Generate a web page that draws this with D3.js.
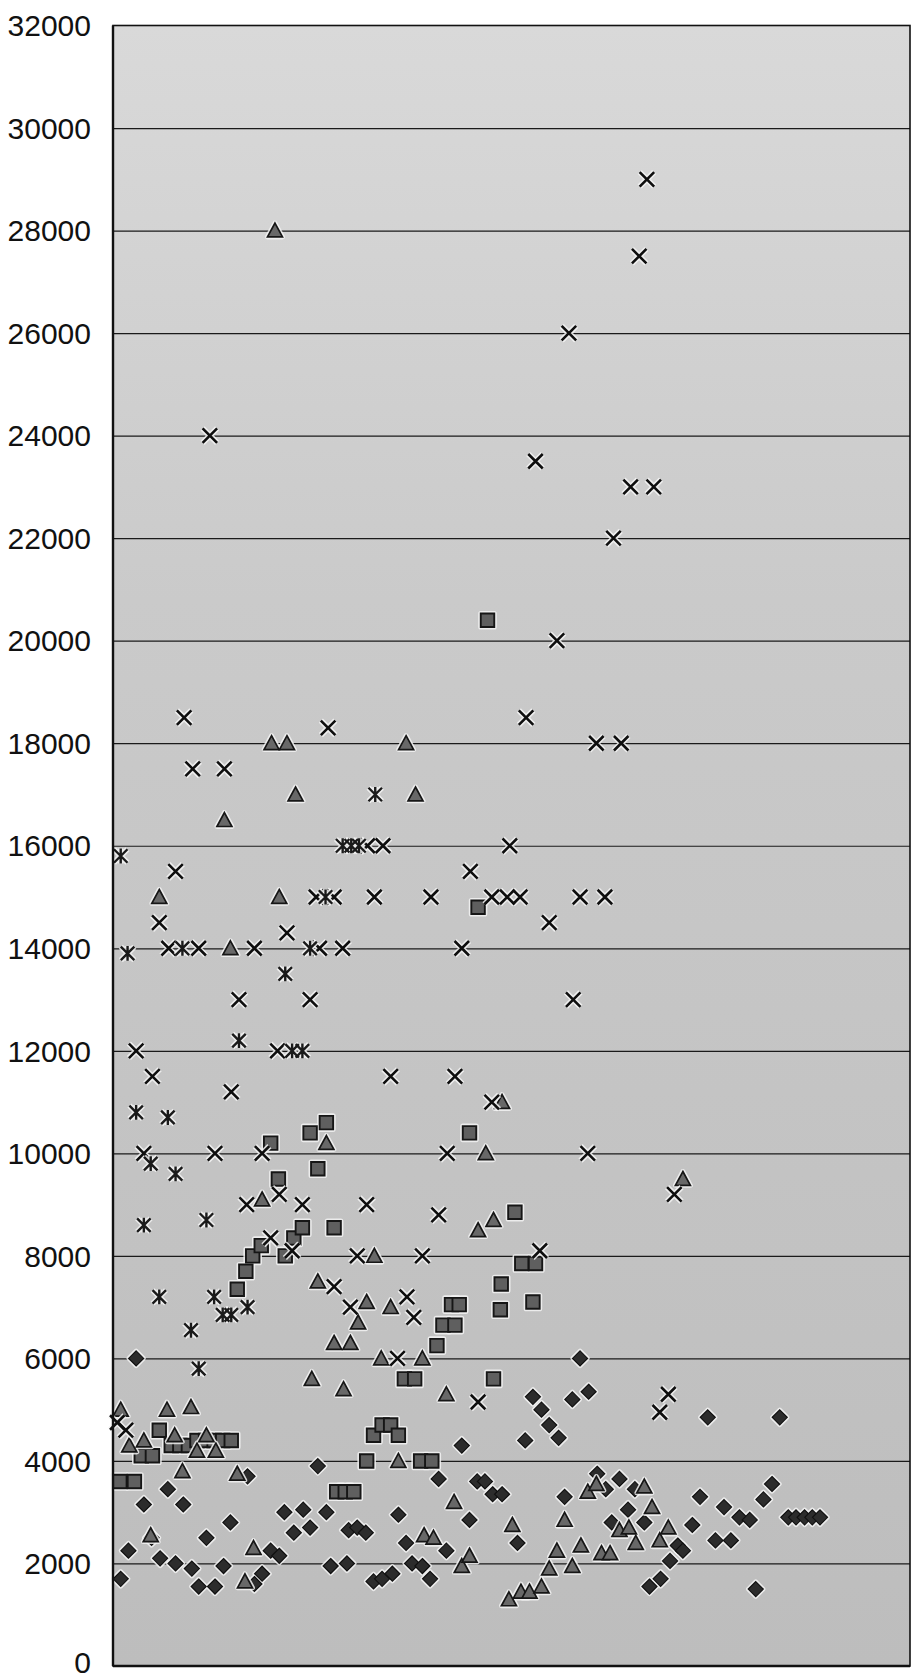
<!DOCTYPE html>
<html>
<head>
<meta charset="utf-8">
<script src="https://cdn.jsdelivr.net/npm/d3@7"></script>
<style>
  html, body { margin: 0; padding: 0; background: #ffffff; }
  svg { display: block; }
</style>
</head>
<body>
<svg id="chart" width="913" height="1680"></svg>
<script>
// ---- data ----------------------------------------------------------------
// x: case position along the horizontal axis, y: amount
const yTicks = [0, 2000, 4000, 6000, 8000, 10000, 12000, 14000, 16000,
                18000, 20000, 22000, 24000, 26000, 28000, 30000, 32000];
const xDomain = [0, 93];
const yDomain = [0, 32000];

const seriesDiamond = [
  [0.9,1700],[1.8,2250],[2.7,6000],[3.6,3150],[4.5,2500],[5.5,2100],[6.4,3450],[7.3,2000],
  [8.2,3150],[9.2,1900],[10.0,1550],[10.9,2500],[11.9,1550],[12.9,1950],[13.7,2800],[15.7,3700],
  [16.5,1600],[17.4,1800],[18.4,2250],[19.4,2150],[20.0,3000],[21.1,2600],[22.2,3050],[23.0,2700],
  [23.9,3900],[24.9,3000],[25.4,1950],[27.3,2000],[27.5,2650],[28.5,2700],[29.5,2600],[30.4,1650],
  [31.4,1700],[32.6,1800],[33.3,2950],[34.2,2400],[34.9,2000],[36.1,1950],[37.0,1700],[38.0,3650],
  [38.9,2250],[40.7,4300],[41.6,2850],[42.5,3600],[43.4,3600],[44.3,3350],[45.4,3350],[47.2,2400],
  [48.1,4400],[49.0,5250],[50.0,5000],[50.9,4700],[52.0,4450],[52.7,3300],[53.6,5200],[54.5,6000],
  [55.5,5350],[56.5,3750],[57.5,3450],[58.2,2800],[59.1,3650],[60.1,3050],[60.9,3450],[62.0,2800],
  [62.6,1550],[63.9,1700],[65.0,2050],[65.9,2350],[66.5,2250],[67.6,2750],[68.5,3300],[69.4,4850],
  [70.3,2450],[71.3,3100],[72.1,2450],[73.1,2900],[74.3,2850],[75.0,1500],[75.9,3250],[76.9,3550],
  [77.8,4850],[78.8,2900],[79.7,2900],[80.7,2900],[81.6,2900],[82.5,2900]
];

const seriesSquare = [
  [0.8,3600],[2.5,3600],[3.3,4100],[4.6,4100],[5.4,4600],[6.8,4300],[7.8,4300],[8.8,4300],
  [9.8,4400],[10.8,4400],[11.8,4400],[12.8,4400],[13.8,4400],[14.5,7350],[15.5,7700],[16.3,8000],
  [17.3,8200],[18.4,10200],[19.3,9500],[20.1,8000],[21.1,8350],[22.1,8550],[23.0,10400],[23.9,9700],
  [24.9,10600],[25.8,8550],[26.1,3400],[27.1,3400],[28.1,3400],[29.6,4000],[30.4,4500],[31.4,4700],
  [32.4,4700],[33.3,4500],[34.0,5600],[35.2,5600],[35.9,4000],[37.2,4000],[37.8,6250],[38.5,6650],
  [39.9,6650],[39.5,7050],[40.4,7050],[41.6,10400],[42.6,14800],[43.7,20400],[44.4,5600],[45.2,6950],
  [45.3,7450],[46.9,8850],[47.7,7850],[49.3,7850],[49.0,7100]
];

const seriesTriangle = [
  [0.9,5000],[1.9,4300],[3.6,4400],[4.4,2550],[5.4,15000],[6.3,5000],[7.2,4500],[8.1,3800],
  [9.1,5050],[9.8,4200],[10.9,4500],[12.0,4200],[13.0,16500],[13.7,14000],[14.5,3750],[15.4,1650],
  [16.4,2300],[17.4,9100],[18.5,18000],[18.9,28000],[19.4,15000],[20.3,18000],[21.3,17000],[23.2,5600],
  [23.9,7500],[24.9,10200],[25.8,6300],[26.9,5400],[27.7,6300],[28.6,6700],[29.6,7100],[30.5,8000],
  [31.3,6000],[32.4,7000],[33.3,4000],[34.2,18000],[35.3,17000],[36.1,6000],[36.3,2550],[37.4,2500],
  [38.9,5300],[39.8,3200],[40.7,1950],[41.6,2150],[42.6,8500],[43.5,10000],[44.4,8700],[45.4,11000],
  [46.2,1300],[46.6,2750],[47.6,1450],[48.6,1450],[50.0,1550],[50.9,1900],[51.8,2250],[52.7,2850],
  [53.6,1950],[54.6,2350],[55.4,3400],[56.4,3550],[57.0,2200],[58.0,2200],[59.1,2650],[60.2,2700],
  [61.0,2400],[62.0,3500],[62.9,3100],[63.8,2450],[64.8,2700],[66.5,9500]
];

const seriesCross = [
  [0.5,4750],[1.5,4600],[2.7,12000],[3.6,10000],[4.6,11500],[5.4,14500],[6.5,14000],[7.3,15500],
  [8.3,18500],[9.3,17500],[10.0,14000],[11.3,24000],[11.9,10000],[13.0,17500],[13.8,11200],[14.7,13000],
  [15.6,9000],[16.5,14000],[17.4,10000],[18.4,8350],[19.2,12000],[19.4,9200],[20.3,14300],[20.9,8100],
  [22.1,9000],[23.0,13000],[23.7,15000],[24.1,14000],[25.1,18300],[25.8,15000],[25.8,7400],[26.8,14000],
  [27.7,7000],[28.5,8000],[29.6,9000],[29.7,16000],[30.5,15000],[31.5,16000],[32.4,11500],[33.2,6000],
  [34.3,7200],[35.1,6800],[36.1,8000],[37.1,15000],[38.0,8800],[39.0,10000],[39.9,11500],[40.7,14000],
  [41.7,15500],[42.6,5150],[44.2,11000],[44.2,15000],[46.0,15000],[46.3,16000],[47.5,15000],[48.2,18500],
  [49.3,23500],[49.8,8100],[50.9,14500],[51.8,20000],[53.2,26000],[53.7,13000],[54.5,15000],[55.4,10000],
  [56.4,18000],[57.4,15000],[58.4,22000],[59.3,18000],[60.4,23000],[61.4,27500],[62.3,29000],[63.1,23000],
  [63.8,4950],[64.8,5300],[65.5,9200]
];

const seriesStar = [
  [0.9,15800],[1.7,13900],[2.7,10800],[3.6,8600],[4.4,9800],[5.4,7200],[6.4,10700],[7.3,9600],
  [8.1,14000],[9.1,6550],[10.0,5800],[10.9,8700],[11.8,7200],[12.8,6850],[13.8,6850],[14.7,12200],
  [15.7,7000],[20.1,13500],[20.9,12000],[22.1,12000],[23.0,14000],[24.8,15000],[26.8,16000],[27.8,16000],
  [28.7,16000],[30.6,17000]
];

// ---- layout ----------------------------------------------------------------
const plot = { left: 113, right: 910, top: 25.5, bottom: 1666 };
const svg = d3.select("#chart");

const x = d3.scaleLinear().domain(xDomain).range([plot.left, plot.right]);
const y = d3.scaleLinear().domain(yDomain).range([plot.bottom, plot.top]);

// plot-area background: light grey, slightly darker toward the bottom
const defs = svg.append("defs");
const grad = defs.append("linearGradient")
  .attr("id", "plotBg").attr("x1", 0).attr("y1", 0).attr("x2", 0).attr("y2", 1);
grad.append("stop").attr("offset", "0%").attr("stop-color", "#d9d9d9");
grad.append("stop").attr("offset", "35%").attr("stop-color", "#cacaca");
grad.append("stop").attr("offset", "100%").attr("stop-color", "#bdbdbd");

svg.append("rect")
  .attr("x", plot.left).attr("y", plot.top)
  .attr("width", plot.right - plot.left).attr("height", plot.bottom - plot.top)
  .attr("fill", "url(#plotBg)");

// horizontal gridlines
svg.append("g")
  .attr("transform", `translate(${plot.left},0)`)
  .call(d3.axisLeft(y).tickValues(yTicks.filter(v => v > yDomain[0] && v < yDomain[1]))
          .tickSize(-(plot.right - plot.left)).tickFormat(""))
  .call(g => g.select(".domain").remove())
  .call(g => g.selectAll(".tick line")
    .attr("stroke", "#1a1a1a").attr("stroke-width", 1.2));

// y axis labels
const labelAxis = svg.append("g")
  .attr("transform", `translate(${plot.left},0)`)
  .call(d3.axisLeft(y).tickValues(yTicks).tickSize(0).tickPadding(22).tickFormat(d3.format("d")))
  .call(g => g.select(".domain").remove());
labelAxis.selectAll(".tick text")
  .attr("font-family", "'Liberation Sans', Arial, sans-serif")
  .attr("font-size", 30).attr("fill", "#111")
  .attr("dy", d => d === 0 ? "0.22em" : "0.34em");

// ---- marker shapes (size = edge length squared) ------------------------------
const shapeDiamond = { draw(c, s) { const r = Math.sqrt(s) / 2;
  c.moveTo(0, -r); c.lineTo(r, 0); c.lineTo(0, r); c.lineTo(-r, 0); c.closePath(); } };
const shapeSquare = { draw(c, s) { const r = Math.sqrt(s) / 2;
  c.moveTo(-r, -r); c.lineTo(r, -r); c.lineTo(r, r); c.lineTo(-r, r); c.closePath(); } };
const shapeTriangle = { draw(c, s) { const r = Math.sqrt(s) / 2;
  c.moveTo(0, -r); c.lineTo(r, r * 0.85); c.lineTo(-r, r * 0.85); c.closePath(); } };
const shapeCross = { draw(c, s) { const r = Math.sqrt(s) / 2;
  c.moveTo(-r, -r); c.lineTo(r, r); c.moveTo(-r, r); c.lineTo(r, -r); } };
const shapeStar = { draw(c, s) { const r = Math.sqrt(s) / 2;
  c.moveTo(-r, -r); c.lineTo(r, r); c.moveTo(-r, r); c.lineTo(r, -r);
  c.moveTo(0, -r * 1.1); c.lineTo(0, r * 1.1); } };

const seriesList = [
  { name: "diamond",  data: seriesDiamond,  type: shapeDiamond,  size: 15 * 15,
    fill: "#2c2c2c", stroke: "#111111", sw: 1.2 },
  { name: "square",   data: seriesSquare,   type: shapeSquare,   size: 13.5 * 13.5,
    fill: "#5f5f5f", stroke: "#161616", sw: 1.9 },
  { name: "triangle", data: seriesTriangle, type: shapeTriangle, size: 15 * 15,
    fill: "#686868", stroke: "#161616", sw: 1.7 },
  { name: "cross",    data: seriesCross,    type: shapeCross,    size: 14.5 * 14.5,
    fill: "none",    stroke: "#0e0e0e", sw: 2.6 },
  { name: "star",     data: seriesStar,     type: shapeStar,     size: 13.5 * 13.5,
    fill: "none",    stroke: "#1a1a1a", sw: 2.4 }
];

const marks = svg.append("g").attr("class", "marks");
seriesList.forEach(s => {
  const sym = d3.symbol().type(s.type).size(s.size);
  const g = marks.append("g").attr("class", "series-" + s.name);
  // pale outline around each marker
  g.selectAll("path.halo").data(s.data).join("path")
    .attr("class", "halo")
    .attr("d", sym)
    .attr("transform", d => `translate(${x(d[0])},${y(d[1])})`)
    .attr("fill", "none")
    .attr("stroke", "#f3f3f3")
    .attr("stroke-opacity", 0.85)
    .attr("stroke-width", s.sw + 3.2)
    .attr("stroke-linejoin", "round");
  g.selectAll("path.mark").data(s.data).join("path")
    .attr("class", "mark")
    .attr("d", sym)
    .attr("transform", d => `translate(${x(d[0])},${y(d[1])})`)
    .attr("fill", s.fill)
    .attr("stroke", s.stroke)
    .attr("stroke-width", s.sw)
    .attr("stroke-linejoin", "miter");
});

// plot-area frame
svg.append("rect")
  .attr("x", plot.left).attr("y", plot.top)
  .attr("width", plot.right - plot.left).attr("height", plot.bottom - plot.top)
  .attr("fill", "none").attr("stroke", "#111").attr("stroke-width", 1.6);
svg.append("line")
  .attr("x1", plot.left).attr("x2", plot.left)
  .attr("y1", plot.top).attr("y2", plot.bottom)
  .attr("stroke", "#111").attr("stroke-width", 2.4);
svg.append("line")
  .attr("x1", plot.left).attr("x2", plot.right)
  .attr("y1", plot.bottom).attr("y2", plot.bottom)
  .attr("stroke", "#111").attr("stroke-width", 2.4);
</script>
</body>
</html>
